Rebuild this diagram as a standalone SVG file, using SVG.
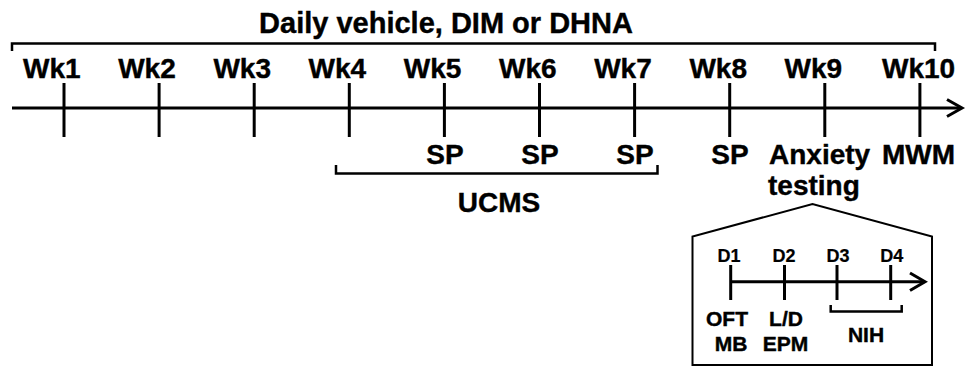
<svg xmlns="http://www.w3.org/2000/svg" width="966" height="368" viewBox="0 0 966 368">
  <style>
    text { font-family: "Liberation Sans", Arial, sans-serif; font-weight: bold; fill: #000; stroke: #000; stroke-width: 0.4; }
    .big { font-size: 28px; }
    .title { font-size: 29px; }
    .small { font-size: 18px; stroke-width: 0.2; }
    .mid { font-size: 21px; stroke-width: 0.4; }
    .line { stroke: #000; stroke-width: 3; fill: none; }
    .brk { stroke: #000; stroke-width: 2.5; fill: none; }
    .box { stroke: #000; stroke-width: 2; fill: none; }
  </style>

  <!-- treatment span -->
  <g id="treatment">
    <text class="title" x="446" y="33" text-anchor="middle">Daily vehicle, DIM or DHNA</text>
    <path class="brk" d="M12,51 V43.5 H935 V51"/>
  </g>

  <!-- main weekly timeline -->
  <g id="connectors">
    <line class="line" x1="12" y1="108" x2="961" y2="108"/>
    <polyline class="line" points="947,99.5 962,108 947,116.5" stroke-width="3.5"/>
    <g id="ticks">
      <line class="line" x1="64" y1="83" x2="64" y2="137"/>
      <line class="line" x1="159.1" y1="83" x2="159.1" y2="137"/>
      <line class="line" x1="254.2" y1="83" x2="254.2" y2="137"/>
      <line class="line" x1="349.3" y1="83" x2="349.3" y2="137"/>
      <line class="line" x1="444.4" y1="83" x2="444.4" y2="137"/>
      <line class="line" x1="539.5" y1="83" x2="539.5" y2="137"/>
      <line class="line" x1="634.6" y1="83" x2="634.6" y2="137"/>
      <line class="line" x1="729.7" y1="83" x2="729.7" y2="137"/>
      <line class="line" x1="824.8" y1="83" x2="824.8" y2="137"/>
      <line class="line" x1="919.9" y1="83" x2="919.9" y2="137"/>
    </g>
  </g>

  <!-- week labels -->
  <g id="weeks">
    <text class="big" x="23" y="78">Wk1</text>
    <text class="big" x="118.2" y="78">Wk2</text>
    <text class="big" x="213.4" y="78">Wk3</text>
    <text class="big" x="308.6" y="78">Wk4</text>
    <text class="big" x="403.8" y="78">Wk5</text>
    <text class="big" x="499" y="78">Wk6</text>
    <text class="big" x="594.2" y="78">Wk7</text>
    <text class="big" x="689.4" y="78">Wk8</text>
    <text class="big" x="784.6" y="78">Wk9</text>
    <text class="big" x="882" y="78">Wk10</text>
  </g>

  <!-- events below the axis -->
  <g id="events">
    <text class="big" x="445" y="164" text-anchor="middle">SP</text>
    <text class="big" x="540" y="164" text-anchor="middle">SP</text>
    <text class="big" x="635" y="164" text-anchor="middle">SP</text>
    <text class="big" x="730" y="164" text-anchor="middle">SP</text>
    <text class="big" x="769" y="164">Anxiety</text>
    <text class="big" x="768" y="195">testing</text>
    <text class="big" x="882" y="164">MWM</text>
  </g>

  <!-- UCMS period -->
  <g id="ucms">
    <path class="brk" d="M336,165 V173.5 H657.5 V165"/>
    <text class="big" x="499" y="212" text-anchor="middle">UCMS</text>
  </g>

  <!-- anxiety testing detail -->
  <g id="anxiety-detail">
    <path class="box" d="M692.5,365 V236.5 L812.5,204 L932,236.5 V365 Z"/>
    <line class="line" x1="730.7" y1="281.7" x2="924" y2="281.7"/>
    <polyline class="line" points="910,273 925,281.7 910,290.5"/>
    <line class="line" x1="730.7" y1="265" x2="730.7" y2="300"/>
    <line class="line" x1="784.5" y1="265" x2="784.5" y2="300"/>
    <line class="line" x1="837" y1="265" x2="837" y2="300"/>
    <line class="line" x1="890.7" y1="265" x2="890.7" y2="300"/>
    <text class="small" x="729" y="262" text-anchor="middle">D1</text>
    <text class="small" x="784" y="262" text-anchor="middle">D2</text>
    <text class="small" x="838" y="262" text-anchor="middle">D3</text>
    <text class="small" x="891.7" y="262" text-anchor="middle">D4</text>
    <text class="mid" x="727" y="326" text-anchor="middle">OFT</text>
    <text class="mid" x="731" y="350.5" text-anchor="middle">MB</text>
    <text class="mid" x="786" y="326" text-anchor="middle">L/D</text>
    <text class="mid" x="785.5" y="350.5" text-anchor="middle">EPM</text>
    <path class="brk" d="M830.7,305 V311.5 H901.7 V305"/>
    <text class="mid" x="866" y="342" text-anchor="middle">NIH</text>
  </g>
</svg>
